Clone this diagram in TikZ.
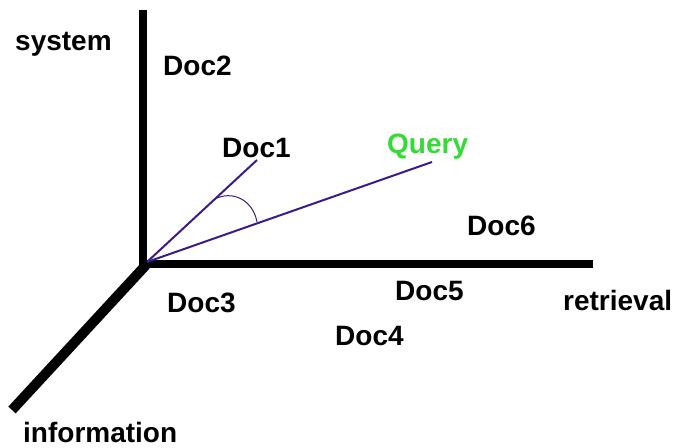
\documentclass[tikz,border=0pt]{standalone}
\usepackage{fontspec}
\setmainfont{Liberation Sans}
\begin{document}
\begin{tikzpicture}[x=1pt,y=-1pt,
  lbl/.style={anchor=base west,inner sep=0pt,font=\fontsize{28}{30}\selectfont\bfseries},
  axis/.style={line width=8.5pt,black},
  vec/.style={line width=2pt,color=vecpurple},
]
\definecolor{vecpurple}{RGB}{60,26,140}
\definecolor{qgreen}{RGB}{50,220,50}
\useasboundingbox (0,0) rectangle (685,447);
\coordinate (O) at (143,264);
\coordinate (Vtop) at (143,10);
\coordinate (Hend) at (593,264);
\coordinate (Dend) at (12,410);
\coordinate (P) at (147,262);
\coordinate (D1end) at (257,160);
\coordinate (Qend) at (432,162);
\coordinate (A1) at (213,200);
\coordinate (A2) at (257,222);
\draw[axis] (Vtop) -- (143,268);
\draw[axis] (139,264) -- (Hend);
\draw[line width=10pt] (146,265) -- (Dend);
\draw[vec] (P) -- (D1end);
\draw[vec] (P) -- (Qend);
\draw[line width=1pt,color=vecpurple] (A1) .. controls (232,189) and (253,200) .. (A2);
\node[lbl] (system) at (15,50) {system};
\node[lbl] (doc2) at (163,75) {Doc2};
\node[lbl] (doc1) at (222,157) {Doc1};
\node[lbl,text=qgreen] (query) at (387,153) {Query};
\node[lbl] (doc6) at (467,235) {Doc6};
\node[lbl] (doc5) at (395,300) {Doc5};
\node[lbl] (retrieval) at (563,310) {retrieval};
\node[lbl] (doc3) at (167,312) {Doc3};
\node[lbl] (doc4) at (335,345) {Doc4};
\node[lbl] (information) at (23,442) {information};
\end{tikzpicture}
\end{document}
